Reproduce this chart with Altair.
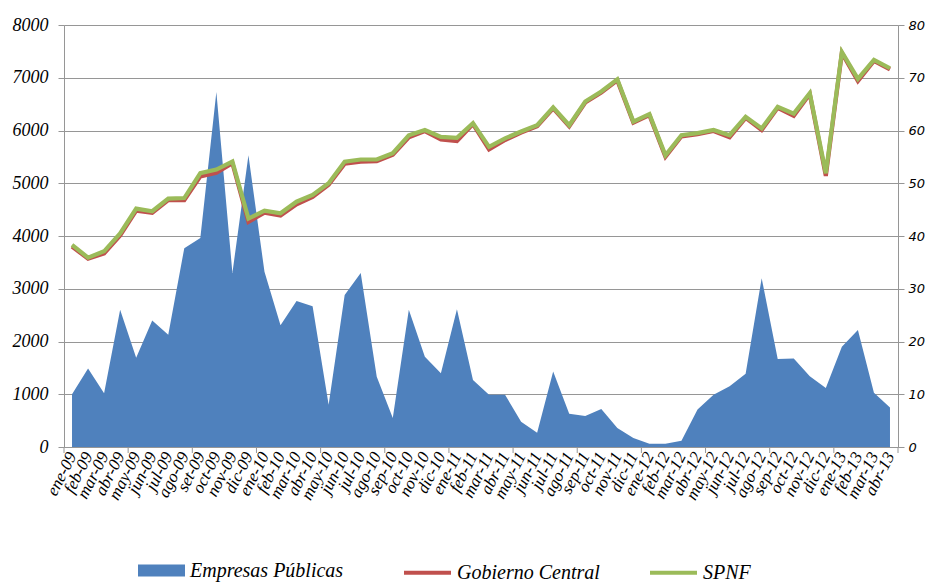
import altair as alt
import pandas as pd

months = ["ene-09", "feb-09", "mar-09", "abr-09", "may-09", "jun-09", "jul-09", "ago-09", "set-09", "oct-09", "nov-09", "dic-09",
          "ene-10", "feb-10", "mar-10", "abr-10", "may-10", "jun-10", "jul-10", "ago-10", "sep-10", "oct-10", "nov-10", "dic-10",
          "ene-11", "feb-11", "mar-11", "abr-11", "may-11", "jun-11", "jul-11", "ago-11", "sep-11", "oct-11", "nov-11", "dic-11",
          "ene-12", "feb-12", "mar-12", "abr-12", "may-12", "jun-12", "jul-12", "ago-12", "sep-12", "oct-12", "nov-12", "dic-12",
          "ene-13", "feb-13", "mar-13", "abr-13"]

empresas = [1000, 1490, 1020, 2600, 1690, 2400, 2130, 3770, 3960, 6730, 3300, 5530,
            3320, 2310, 2770, 2670, 800, 2880, 3300, 1330, 550, 2600, 1710, 1400,
            2610, 1270, 990, 990, 480, 270, 1430, 630, 590, 720, 360, 170,
            60, 60, 120, 710, 990, 1150, 1390, 3200, 1670, 1680, 1340, 1120,
            1900, 2220, 1030, 750]

gobierno = [38.0, 35.7, 36.7, 40.1, 44.8, 44.4, 46.8, 46.8, 51.3, 52.0, 53.8, 42.7,
            44.4, 43.9, 46.0, 47.4, 49.7, 53.7, 54.1, 54.2, 55.4, 58.7, 59.9, 58.3,
            58.0, 61.2, 56.4, 58.2, 59.6, 60.8, 64.2, 60.8, 65.3, 67.2, 69.5, 61.5,
            62.9, 55.0, 58.9, 59.3, 59.9, 58.7, 62.4, 60.1, 64.3, 62.8, 66.9, 51.4,
            74.7, 69.4, 73.2, 71.6]

spnf = [38.3, 35.9, 37.1, 40.5, 45.2, 44.7, 47.1, 47.2, 51.9, 52.6, 54.1, 43.3,
        44.8, 44.3, 46.5, 47.8, 50.0, 54.1, 54.5, 54.5, 55.7, 59.1, 60.1, 58.8,
        58.6, 61.4, 56.9, 58.5, 59.8, 61.0, 64.4, 61.0, 65.5, 67.4, 69.7, 61.7,
        63.1, 55.3, 59.1, 59.5, 60.1, 59.1, 62.6, 60.4, 64.5, 63.2, 67.1, 51.9,
        74.9, 69.8, 73.4, 71.8]

left_ticks = [0, 1000, 2000, 3000, 4000, 5000, 6000, 7000, 8000]
right_ticks = [0, 10, 20, 30, 40, 50, 60, 70, 80]
series_names = ["Empresas Públicas", "Gobierno Central", "SPNF"]

BLUE = "#4F81BD"
RED = "#C0504D"
GREEN = "#9BBB59"
GRAY = "#969696"

n = len(months)
idx = list(range(n))
tick_bounds = [-0.5 + 4 * k for k in range(14)]

df_area = pd.DataFrame({"idx": idx, "valor": empresas, "serie": series_names[0]})
df_lines = pd.DataFrame({
    "idx": idx + idx,
    "valor": gobierno + spnf,
    "serie": [series_names[1]] * n + [series_names[2]] * n,
})
df_ticks = pd.DataFrame({"idx": tick_bounds})

label_arr = "[" + ",".join("'" + m + "'" for m in months) + "]"

x_scale = alt.Scale(domain=[-0.5, n - 0.5], nice=False, zero=False)
x_axis = alt.Axis(
    values=idx, labelExpr=label_arr + "[datum.value]", title=None,
    ticks=False, grid=False, domain=True, domainColor=GRAY, domainWidth=1,
    labelAngle=-63, labelAlign="right", labelBaseline="middle", labelPadding=6,
    labelFont="Liberation Serif", labelFontStyle="italic", labelFontSize=17,
    labelColor="#000000", labelOverlap=False, labelBound=False, labelFlush=False,
)
x_enc = alt.X("idx:Q", scale=x_scale, axis=x_axis)

area = alt.Chart(df_area).mark_area(interpolate="linear", opacity=1).encode(
    x=x_enc,
    y=alt.Y("valor:Q", scale=alt.Scale(domain=[0, 8000], nice=False),
            axis=alt.Axis(orient="left", values=left_ticks, title=None, grid=True,
                          gridColor=GRAY, gridWidth=1, domainColor=GRAY, tickColor=GRAY,
                          tickSize=6, labelPadding=10, labelFont="Liberation Serif",
                          labelFontStyle="italic", labelFontSize=18, labelColor="#000000",
                          format="d")),
    fill=alt.Fill("serie:N", scale=alt.Scale(domain=[series_names[0]], range=[BLUE]),
                  legend=alt.Legend(orient="none", legendX=74, legendY=522, title=None,
                                    direction="horizontal", padding=0,
                                    symbolType="M-1,-0.255H1V0.255H-1Z", symbolSize=2209,
                                    symbolStrokeWidth=0, symbolOpacity=1, labelOffset=5,
                                    labelFont="Liberation Serif", labelFontStyle="italic",
                                    labelFontSize=20, labelColor="#000000", labelLimit=300)),
)

lines = alt.Chart(df_lines).mark_line(strokeWidth=4.2, interpolate="linear").encode(
    x=x_enc,
    y=alt.Y("valor:Q", scale=alt.Scale(domain=[0, 80], nice=False),
            axis=alt.Axis(orient="right", values=right_ticks, title=None, grid=False,
                          domainColor=GRAY, tickColor=GRAY, tickSize=6, labelPadding=4,
                          labelFont="DejaVu Sans", labelFontStyle="italic", labelFontSize=13,
                          labelColor="#000000")),
    stroke=alt.Stroke("serie:N", scale=alt.Scale(domain=series_names[1:], range=[RED, GREEN]),
                      legend=alt.Legend(orient="none", legendX=338, legendY=522, title=None,
                                        direction="horizontal", padding=0,
                                        symbolType="stroke", symbolSize=2209,
                                        symbolStrokeWidth=4, labelOffset=4, columnPadding=42,
                                        labelFont="Liberation Serif", labelFontStyle="italic",
                                        labelFontSize=20, labelColor="#000000", labelLimit=300)),
)

ticks = alt.Chart(df_ticks).mark_rule(color=GRAY, strokeWidth=1).encode(
    x=x_enc,
    y=alt.value(422),
    y2=alt.value(428),
)

chart = alt.layer(area, lines, ticks).resolve_scale(
    y="independent", fill="independent", stroke="independent"
).properties(
    width=834, height=422,
    autosize=alt.AutoSizeParams(type="none"),
    padding={"left": 56, "top": 17, "right": 28, "bottom": 136},
).configure_view(strokeWidth=0).configure(background="#ffffff")

chart.save("out.html", embed_options={"renderer": "svg", "actions": False})
